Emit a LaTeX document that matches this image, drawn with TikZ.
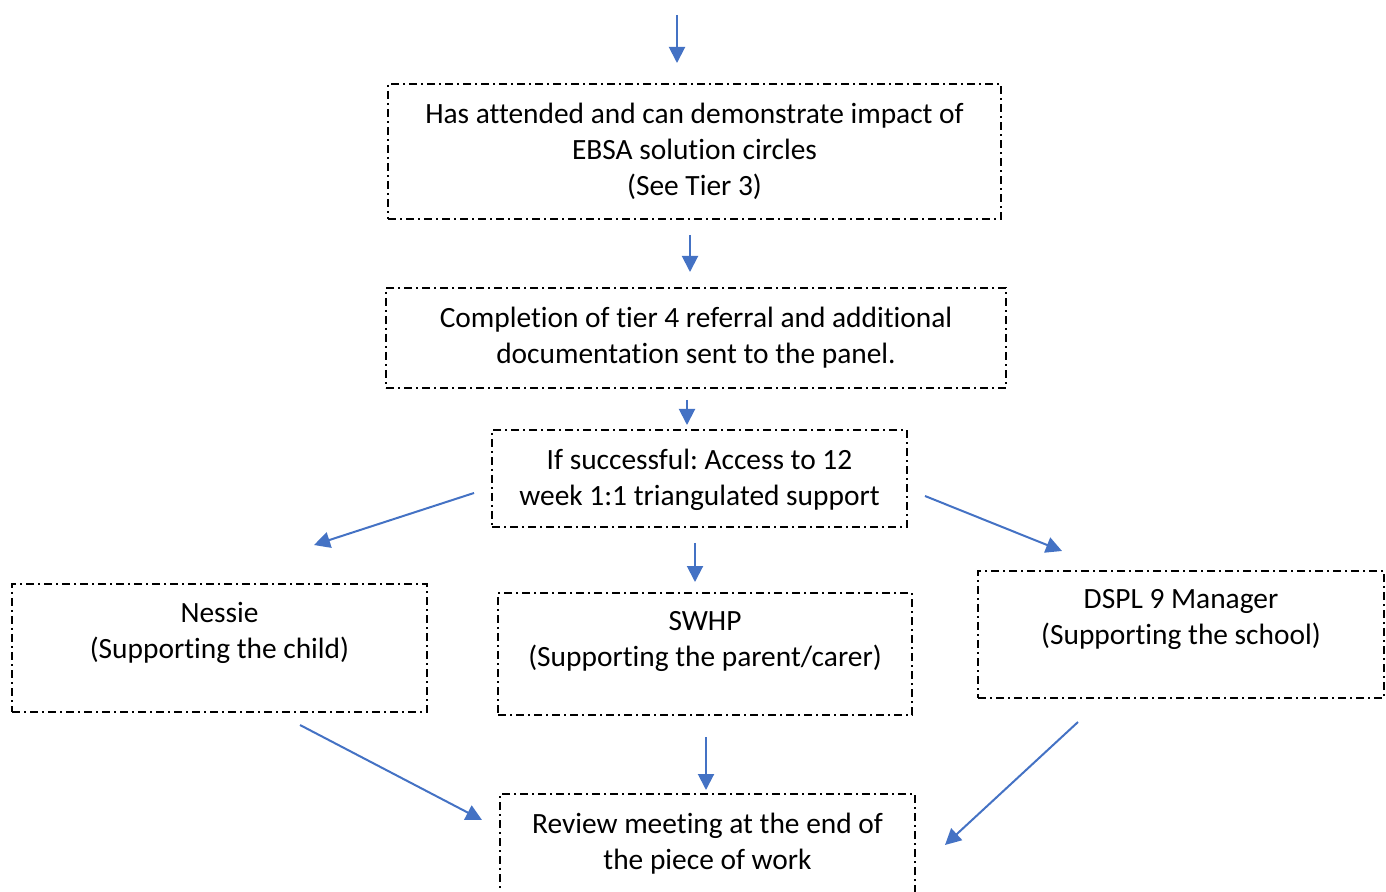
\documentclass[tikz,border=0pt]{standalone}
\usepackage{fontspec}
\setmainfont[Ligatures=CommonOff]{Carlito}
\frenchspacing
\usetikzlibrary{arrows.meta, positioning}

\definecolor{arrowblue}{RGB}{68,114,196}

\tikzset{
  box/.style={draw, line width=1pt, dash pattern=on 4pt off 2pt on 1pt off 2pt, inner sep=0pt},
  txt/.style={align=center, inner sep=0pt, font=\fontsize{14.7}{18}\selectfont},
  flow/.style={draw=arrowblue, line width=1pt, -{Triangle[length=8pt, width=8pt]}}
}

\begin{document}
\begin{tikzpicture}[x=0.5pt, y=-0.5pt]

\useasboundingbox (0,0) rectangle (1386,892);
\clip (0,0) rectangle (1386,892);

% boxes
\node[box, minimum width=306.5pt, minimum height=67.5pt] (impact) at (694.5,151.5) {};
\node[box, minimum width=310pt, minimum height=50pt] (referral) at (696,338) {};
\node[box, minimum width=207.5pt, minimum height=48.5pt] (success) at (699.5,478.5) {};
\node[box, minimum width=207.5pt, minimum height=64pt] (nessie) at (219.5,648) {};
\node[box, minimum width=207pt, minimum height=61pt] (swhp) at (705,654) {};
\node[box, minimum width=203pt, minimum height=63.5pt] (dspl) at (1181,634.5) {};
\node[box, minimum width=207.5pt, minimum height=76pt] (review) at (707.5,870) {};

% texts
\node[txt, below=9.6pt of impact.north] (impact-t) {Has attended and can demonstrate impact of\\EBSA solution circles\\(See Tier 3)};
\node[txt, below=9.6pt of referral.north] (referral-t) {Completion of tier 4 referral and additional\\documentation sent to the panel.};
\node[txt, below=9.6pt of success.north] (success-t) {If successful: Access to 12\\week 1:1 triangulated support};
\node[txt, below=9.6pt of nessie.north] (nessie-t) {Nessie\\(Supporting the child)};
\node[txt, below=9.6pt of swhp.north] (swhp-t) {SWHP\\(Supporting the parent/carer)};
\node[txt, below=9.6pt of dspl.north] (dspl-t) {DSPL 9 Manager\\(Supporting the school)};
\node[txt, below=9.6pt of review.north] (review-t) {Review meeting at the end of\\the piece of work};

% arrow ends
\coordinate (in-s) at (677,15);     \coordinate (in-e) at (677,63);
\coordinate (imp-s) at (690,235);   \coordinate (imp-e) at (690,272);
\coordinate (ref-s) at (687,400);   \coordinate (ref-e) at (687,425);
\coordinate (suc-l) at (474,493);   \coordinate (nes-e) at (314,545);
\coordinate (suc-m) at (695,543);   \coordinate (swh-e) at (695,582);
\coordinate (suc-r) at (925,496);   \coordinate (dsp-e) at (1062,551);
\coordinate (nes-s) at (300,725);   \coordinate (rev-l) at (482,820);
\coordinate (swh-s) at (706,737);   \coordinate (rev-m) at (706,790);
\coordinate (dsp-s) at (1078,722);  \coordinate (rev-r) at (945,845);

\draw[flow] (in-s) -- (in-e);
\draw[flow] (imp-s) -- (imp-e);
\draw[flow] (ref-s) -- (ref-e);
\draw[flow] (suc-l) -- (nes-e);
\draw[flow] (suc-m) -- (swh-e);
\draw[flow] (suc-r) -- (dsp-e);
\draw[flow] (nes-s) -- (rev-l);
\draw[flow] (swh-s) -- (rev-m);
\draw[flow] (dsp-s) -- (rev-r);

\end{tikzpicture}
\end{document}
